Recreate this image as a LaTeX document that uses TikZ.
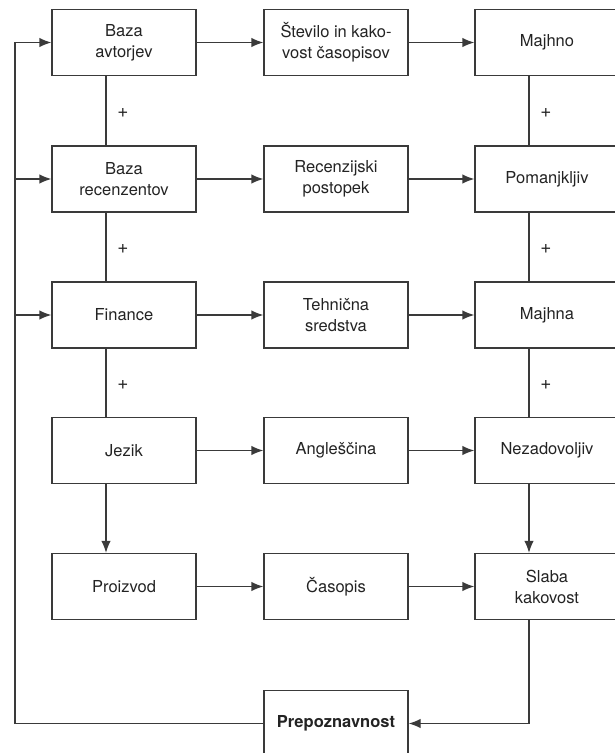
\documentclass[tikz,border=0pt]{standalone}
\usepackage{fontspec}
\setmainfont{TeX Gyre Heros}
\usepackage{tikz}
\usetikzlibrary{arrows.meta,positioning}
\usepackage{xcolor}
\definecolor{linegray}{HTML}{3A3A3A}
\definecolor{textgray}{HTML}{232323}

\begin{document}
\begin{tikzpicture}[x=1pt, y=-1pt,
    box/.style={draw=linegray, line width=1.3pt, rectangle, minimum width=144pt, minimum height=66pt, align=center, text=textgray, font=\fontsize{16.5}{21}\selectfont},
    arr/.style={-{Latex[length=12pt,width=9.5pt]}, draw=linegray, line width=1.3pt},
    link/.style={draw=linegray, line width=1.3pt},
    plus/.style={text=textgray, font=\fontsize{19}{21}\selectfont}]
    \useasboundingbox (0,0) rectangle (615,753);
    \clip (0,0) rectangle (615,753);

    \node[box] (avtorji) at (124,42.5) {Baza\\avtorjev};
    \node[box] (stevilo) at (336,42.5) {Število in kako-\\vost časopisov};
    \node[box] (majhno) at (547,42.5) {Majhno};

    \node[box] (recenzenti) at (124,179) {Baza\\recenzentov};
    \node[box] (postopek) at (336,179) {Recenzijski\\postopek};
    \node[box] (pomanjkljiv) at (547,179) {Pomanjkljiv};

    \node[box] (finance) at (124,315) {Finance};
    \node[box] (tehnicna) at (336,315) {Tehnična\\sredstva};
    \node[box] (majhna) at (547,315) {Majhna};

    \node[box] (jezik) at (124,450.5) {Jezik};
    \node[box] (anglescina) at (336,450.5) {Angleščina};
    \node[box] (nezadovoljiv) at (547,450.5) {Nezadovoljiv};

    \node[box] (proizvod) at (124,586.5) {Proizvod};
    \node[box] (casopis) at (336,586.5) {Časopis};
    \node[box] (slaba) at (547,586.5) {Slaba\\kakovost};

    \node[box, font=\fontsize{16.5}{21}\selectfont\bfseries] (prep) at (336,723.5) {Prepoznavnost};

    \node[plus] (plusa) at (123,113) {+};
    \node[plus] (plusb) at (123,249) {+};
    \node[plus] (plusc) at (123,385) {+};
    \node[plus] (plusd) at (546,113) {+};
    \node[plus] (pluse) at (546,249) {+};
    \node[plus] (plusf) at (546,385) {+};

    \coordinate (fbcorner) at (15,723.5);

    \draw[arr] (avtorji) -- (stevilo);
    \draw[arr] (stevilo) -- (majhno);
    \draw[arr] (recenzenti) -- (postopek);
    \draw[arr] (postopek) -- (pomanjkljiv);
    \draw[arr] (finance) -- (tehnicna);
    \draw[arr] (tehnicna) -- (majhna);
    \draw[arr] (jezik) -- (anglescina);
    \draw[arr] (anglescina) -- (nezadovoljiv);
    \draw[arr] (proizvod) -- (casopis);
    \draw[arr] (casopis) -- (slaba);

    \draw[link] ([xshift=-18pt]avtorji.south) -- ([xshift=-18pt]recenzenti.north);
    \draw[link] ([xshift=-18pt]recenzenti.south) -- ([xshift=-18pt]finance.north);
    \draw[link] ([xshift=-18pt]finance.south) -- ([xshift=-18pt]jezik.north);
    \draw[arr] ([xshift=-18pt]jezik.south) -- ([xshift=-18pt]proizvod.north);

    \draw[link] ([xshift=-18pt]majhno.south) -- ([xshift=-18pt]pomanjkljiv.north);
    \draw[link] ([xshift=-18pt]pomanjkljiv.south) -- ([xshift=-18pt]majhna.north);
    \draw[link] ([xshift=-18pt]majhna.south) -- ([xshift=-18pt]nezadovoljiv.north);
    \draw[arr] ([xshift=-18pt]nezadovoljiv.south) -- ([xshift=-18pt]slaba.north);

    \draw[arr] ([xshift=-18pt]slaba.south) |- (prep.east);
    \draw[arr] (prep.west) -- (fbcorner) |- (avtorji.west);
    \draw[arr] (fbcorner |- recenzenti.west) -- (recenzenti.west);
    \draw[arr] (fbcorner |- finance.west) -- (finance.west);

\end{tikzpicture}
\end{document}
